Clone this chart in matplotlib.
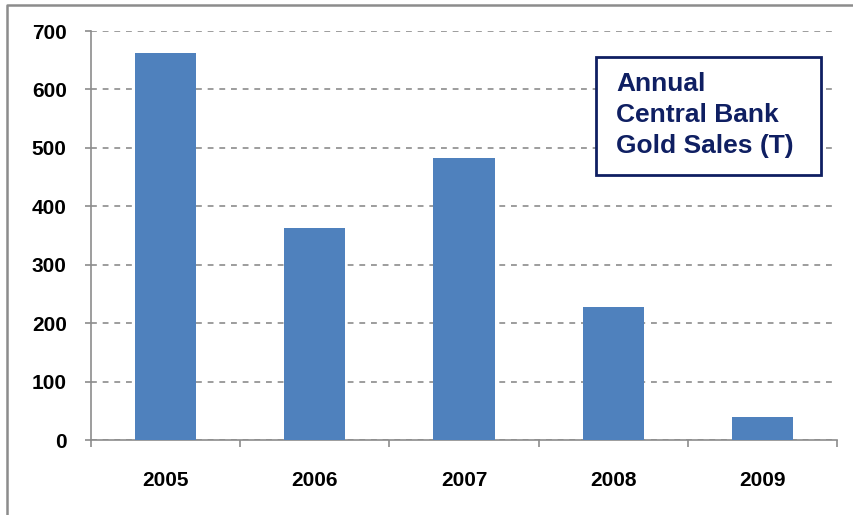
import matplotlib
matplotlib.use("Agg")
import matplotlib.pyplot as plt
from matplotlib.lines import Line2D
from matplotlib.patches import Rectangle
import numpy as np

years = ["2005", "2006", "2007", "2008", "2009"]
sales = [662, 363, 482, 228, 40]
yticks = [0, 100, 200, 300, 400, 500, 600, 700]

grey = "#8c8c8c"
navy = "#0f1f62"

fig = plt.figure(figsize=(8.54, 5.15), dpi=100)
ax = fig.add_axes([0.1066, 0.1456, 0.8734, 0.7942])

x = np.arange(len(years))
ax.bar(x, sales, width=0.41, color="#4f81bd", zorder=3)

ax.set_xlim(-0.5, len(years) - 0.5)
ax.set_ylim(0, 700)
ax.set_yticks(yticks)
ax.set_yticklabels([str(v) for v in yticks], fontsize=15, fontweight="bold",
                   family="Liberation Sans")
ax.set_xticks(x)
ax.set_xticklabels(years, fontsize=15, fontweight="bold", family="Liberation Sans")
ax.tick_params(axis="x", which="major", length=0, pad=22)
ax.set_xticks(np.arange(len(years) + 1) - 0.5, minor=True)
ax.tick_params(axis="x", which="minor", length=5, width=1.2, color=grey)
ax.tick_params(axis="y", length=4.5, width=1.2, color=grey, pad=13)

ax.yaxis.grid(True, linestyle=(0, (3.5, 3.5)), color=grey, linewidth=1.2, zorder=0)
for s in ["top", "right"]:
    ax.spines[s].set_visible(False)
for s in ["left", "bottom"]:
    ax.spines[s].set_color(grey)
    ax.spines[s].set_linewidth(1.2)

# title box in the upper right corner
box = Rectangle((596 / 854, 1 - 175 / 515), 225 / 854, 118 / 515,
                transform=fig.transFigure, facecolor="white", edgecolor=navy,
                linewidth=2, zorder=5)
fig.add_artist(box)
fig.text(616 / 854, 1 - 72 / 515, "Annual\nCentral Bank\nGold Sales (T)",
         ha="left", va="top", fontsize=19, fontweight="bold", color=navy,
         family="Liberation Sans", linespacing=1.38, zorder=6)

# outer chart frame (top and left edges)
fig.add_artist(Line2D([7 / 854, 7 / 854, 1.0], [0.0, 1 - 5 / 515, 1 - 5 / 515],
                      transform=fig.transFigure, color=grey, linewidth=1.8))

fig.savefig("out.png", dpi=100)
